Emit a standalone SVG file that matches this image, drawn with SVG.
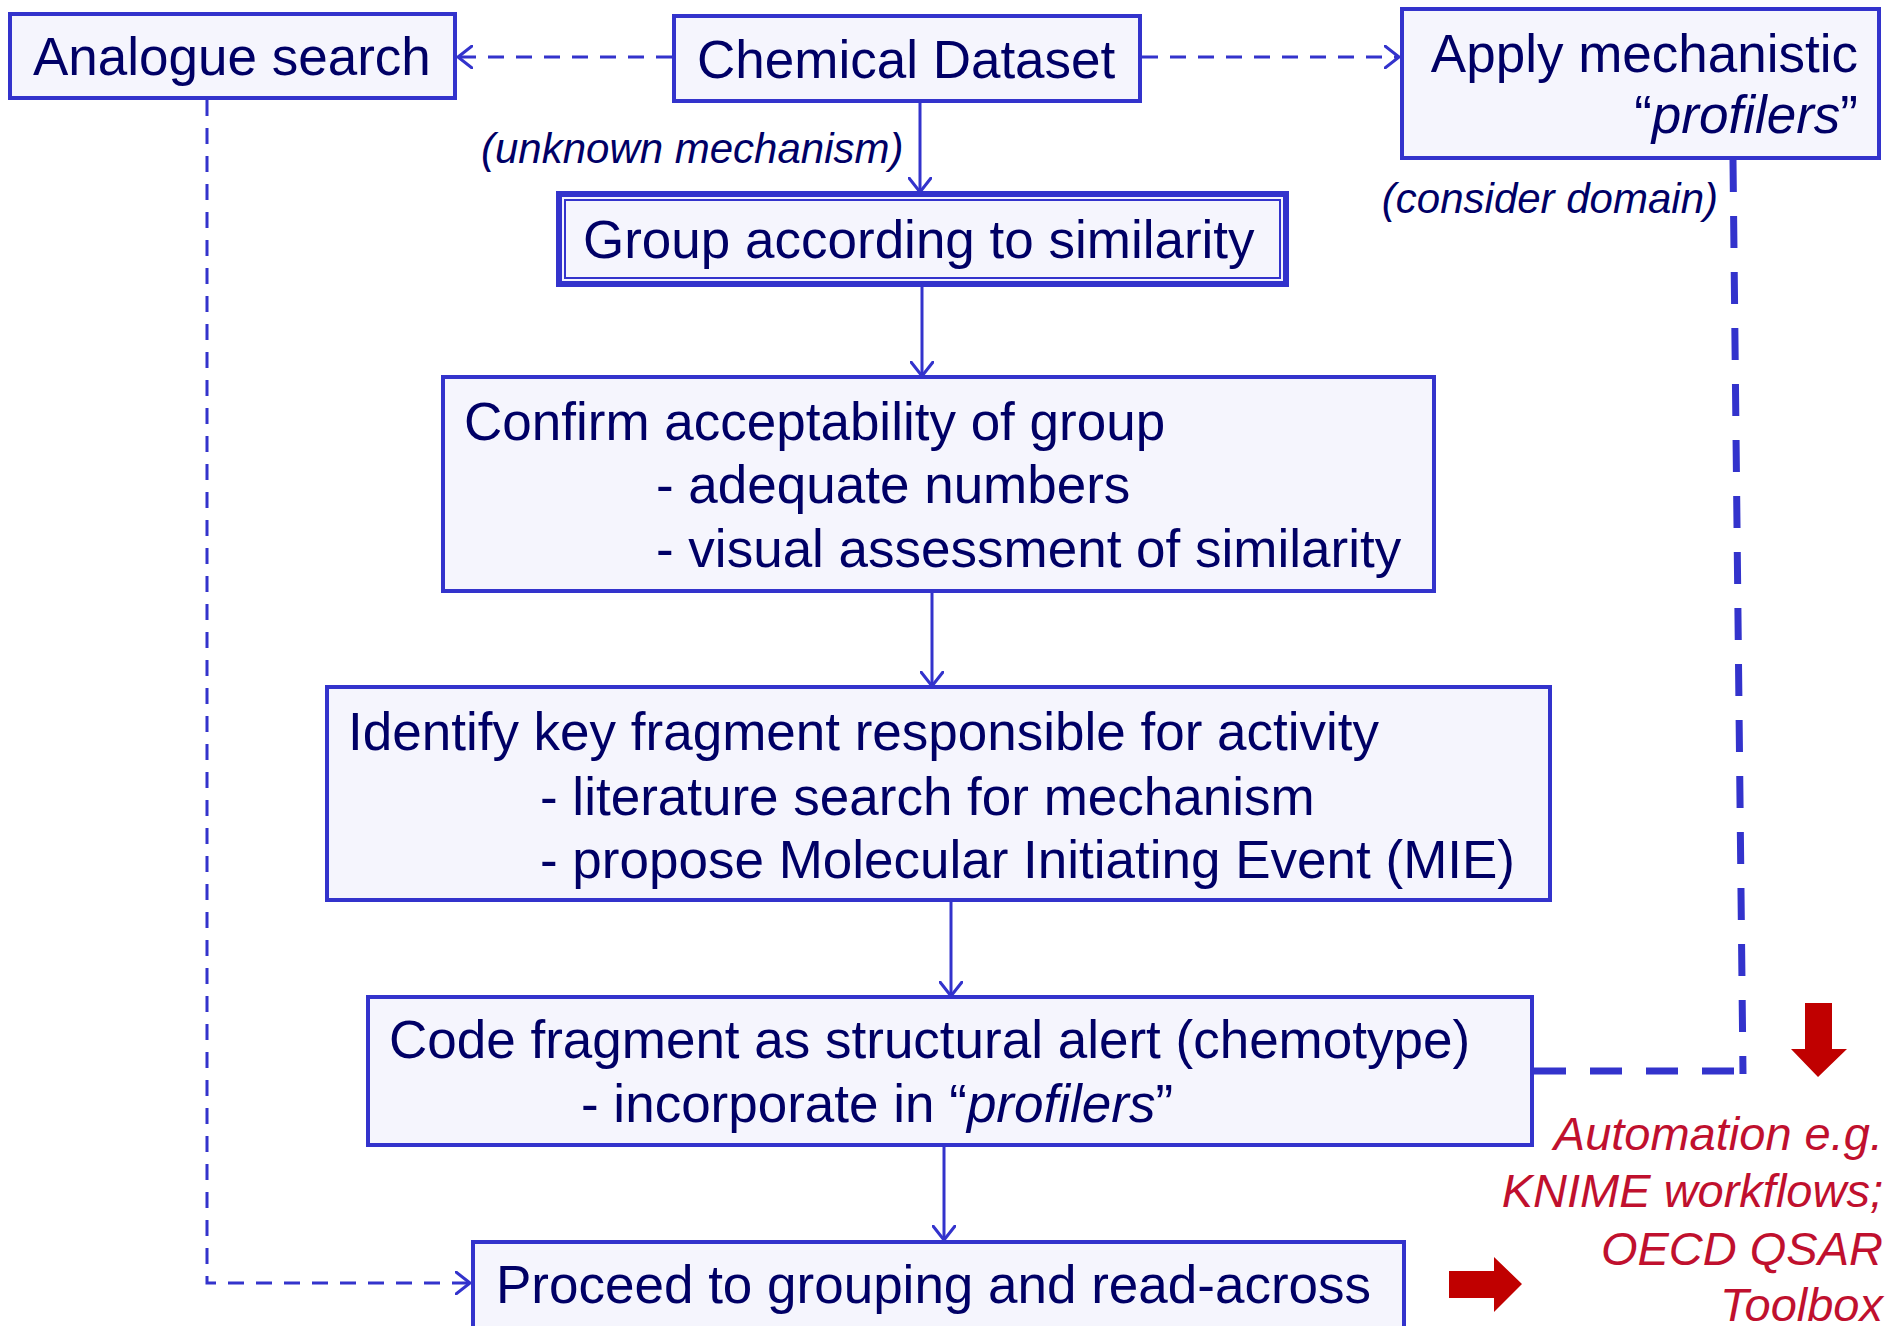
<svg xmlns="http://www.w3.org/2000/svg" width="1893" height="1326" viewBox="0 0 1893 1326">
<defs>
<style>
.box{fill:#F5F5FD;stroke:#3333CC;stroke-width:4;}
.t{font-family:"Liberation Sans",Arial,sans-serif;font-size:53px;fill:#000066;}
.lbl{font-family:"Liberation Sans",Arial,sans-serif;font-size:42px;font-style:italic;fill:#000066;}
.red{font-family:"Liberation Sans",Arial,sans-serif;font-size:47px;font-style:italic;fill:#C0102E;}
.c{fill:none;stroke:#3333CC;stroke-width:3;}
.d{fill:none;stroke:#3333CC;stroke-width:3;stroke-dasharray:16 12;}
.dt{fill:none;stroke:#3333CC;stroke-width:7;stroke-dasharray:32 24;}
.i{font-style:italic;}
</style>
<marker id="ah" viewBox="0 0 16 24" markerWidth="16" markerHeight="24" refX="15" refY="12" orient="auto" markerUnits="userSpaceOnUse">
<path d="M1,1 L15,12 L1,23" fill="none" stroke="#3333CC" stroke-width="3" stroke-linecap="round" stroke-linejoin="round"/>
</marker>
</defs>
<rect width="1893" height="1326" fill="#FFFFFF"/>

<g id="connectors">
<line class="c" x1="920" y1="101" x2="920" y2="192" marker-end="url(#ah)"/>
<line class="c" x1="922" y1="285" x2="922" y2="376" marker-end="url(#ah)"/>
<line class="c" x1="932" y1="591" x2="932" y2="686" marker-end="url(#ah)"/>
<line class="c" x1="951" y1="901" x2="951" y2="996" marker-end="url(#ah)"/>
<line class="c" x1="944" y1="1146" x2="944" y2="1240" marker-end="url(#ah)"/>
<line class="d" x1="672" y1="57" x2="458" y2="57" marker-end="url(#ah)"/>
<line class="d" x1="1142" y1="57" x2="1399" y2="57" marker-end="url(#ah)"/>
<path class="d" d="M207,100 V1283 H470" marker-end="url(#ah)"/>
<path class="dt" d="M1733,160 L1743,1074"/>
<path class="dt" d="M1534,1071 H1746" stroke-dasharray="32 22"/>
</g>

<g id="analogue-search">
<rect class="box" x="10" y="14" width="445" height="84"/>
<text class="t" x="33" y="75">Analogue search</text>
</g>

<g id="chemical-dataset">
<rect class="box" x="674" y="16" width="466" height="85"/>
<text class="t" x="697" y="78">Chemical Dataset</text>
</g>

<g id="apply-profilers">
<rect class="box" x="1402" y="9" width="477" height="149"/>
<text class="t" x="1858" y="72" text-anchor="end">Apply mechanistic</text>
<text class="t" x="1858" y="133" text-anchor="end">“<tspan class="i">profilers</tspan>”</text>
</g>

<g id="label-unknown">
<text class="lbl" x="481" y="163">(unknown mechanism)</text>
</g>

<g id="label-domain">
<text class="lbl" x="1718" y="213" text-anchor="end">(consider domain)</text>
</g>

<g id="group-similarity">
<rect x="559" y="194" width="727" height="90" fill="#F5F5FD" stroke="#3333CC" stroke-width="6"/>
<rect x="565" y="200" width="715" height="78" fill="none" stroke="#3333CC" stroke-width="2"/>
<text class="t" x="583" y="258">Group according to similarity</text>
</g>

<g id="confirm-acceptability">
<rect class="box" x="443" y="377" width="991" height="214"/>
<text class="t" x="464" y="440">Confirm acceptability of group</text>
<text class="t" x="656" y="503">- adequate numbers</text>
<text class="t" x="656" y="567">- visual assessment of similarity</text>
</g>

<g id="identify-fragment">
<rect class="box" x="327" y="687" width="1223" height="213"/>
<text class="t" x="348" y="750">Identify key fragment responsible for activity</text>
<text class="t" x="540" y="815">- literature search for mechanism</text>
<text class="t" x="540" y="878">- propose Molecular Initiating Event (MIE)</text>
</g>

<g id="code-fragment">
<rect class="box" x="368" y="997" width="1164" height="148"/>
<text class="t" x="389" y="1058">Code fragment as structural alert (chemotype)</text>
<text class="t" x="581" y="1122">- incorporate in “<tspan class="i">profilers</tspan>”</text>
</g>

<g id="proceed">
<rect class="box" x="473" y="1242" width="931" height="90"/>
<text class="t" x="496" y="1303">Proceed to grouping and read-across</text>
</g>

<g id="automation">
<polygon points="1805,1003 1832,1003 1832,1049 1847,1049 1818,1077 1791,1049 1805,1049" fill="#C00000"/>
<polygon points="1449,1271 1494,1271 1494,1257 1522,1284 1494,1312 1494,1298 1449,1298" fill="#C00000"/>
<text class="red" x="1883" y="1150" text-anchor="end">Automation e.g.</text>
<text class="red" x="1883" y="1207" text-anchor="end">KNIME workflows;</text>
<text class="red" x="1883" y="1265" text-anchor="end">OECD QSAR</text>
<text class="red" x="1883" y="1321" text-anchor="end">Toolbox</text>
</g>
</svg>
